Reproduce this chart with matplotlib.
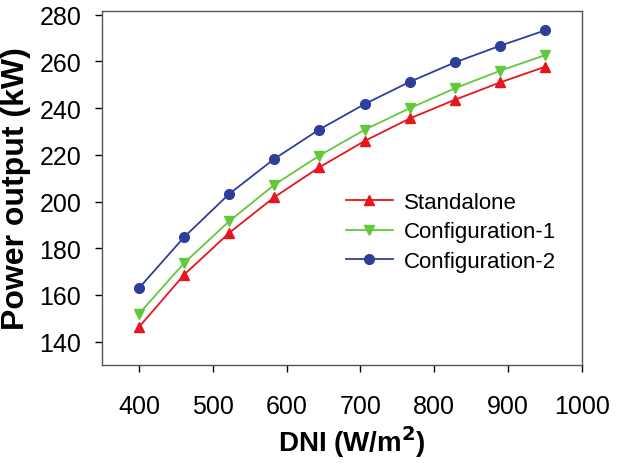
import matplotlib
matplotlib.use("Agg")
import matplotlib.pyplot as plt

dni = [400, 461, 522, 583, 644, 706, 767, 828, 889, 950]
standalone = [146.2, 168.6, 186.5, 201.8, 214.6, 226.0, 235.6, 243.6, 251.0, 257.7]
config1 = [151.9, 173.6, 191.5, 207.1, 219.6, 230.8, 240.0, 248.5, 256.0, 262.7]
config2 = [162.9, 184.7, 203.2, 218.2, 230.8, 241.8, 251.3, 259.6, 266.7, 273.3]

xticks = [400, 500, 600, 700, 800, 900, 1000]
yticks = [140, 160, 180, 200, 220, 240, 260, 280]

plt.rcParams['font.family'] = ['Liberation Sans', 'DejaVu Sans']

fig = plt.figure(figsize=(6.4, 4.64), dpi=100)
ax = fig.add_axes([102/640, 1-366/464, 480/640, 354/464])

ax.plot(dni, standalone, color='#e8141e', marker='^', markersize=7.5, lw=1.3, label='Standalone')
ax.plot(dni, config1, color='#62c83c', marker='v', markersize=7.5, lw=1.3, label='Configuration-1')
ax.plot(dni, config2, color='#2e3e9c', marker='o', markersize=7, lw=1.3, label='Configuration-2')

ax.set_xlim(350, 1000)
ax.set_ylim(130, 281.6)
ax.set_xticks(xticks)
ax.set_yticks(yticks)
ax.tick_params(direction='out', length=5, width=1, labelsize=18, top=False, right=False)
ax.tick_params(axis='x', pad=16)
ax.tick_params(axis='y', pad=10)
for s in ax.spines.values():
    s.set_color('#555555')
    s.set_linewidth(1.0)

ax.set_xlabel('DNI (W/m$^\\mathbf{2}$)', fontsize=20, fontweight='bold')
ax.xaxis.set_label_coords(0.52, -0.165)
ax.set_ylabel('Power output (kW)', fontsize=23, fontweight='bold', labelpad=6)

ax.legend(loc='upper left', bbox_to_anchor=(0.467, 0.545), frameon=False, fontsize=16,
          handlelength=2.1, handletextpad=0.5, labelspacing=0.37)

fig.savefig('out.png', dpi=100)
